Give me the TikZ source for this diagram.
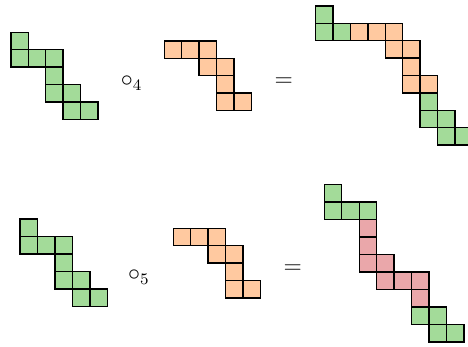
\documentclass[tikz,border=0pt]{standalone}
\definecolor{cgreen}{HTML}{A3DB99}
\definecolor{corange}{HTML}{FFC9A0}
\definecolor{cred}{HTML}{EAA7AA}
\tikzset{
  cellg/.style={draw=black, fill=cgreen, line width=0.7pt},
  cello/.style={draw=black, fill=corange, line width=0.7pt},
  cellr/.style={draw=black, fill=cred, line width=0.7pt},
  optext/.style={inner sep=0pt, font=\fontsize{12}{14}\selectfont},
}
\newcommand\polyo[4]{%
  \begin{scope}[shift={#1}, x=#2, y=-#2]
    \foreach \c/\r in {#4} \draw[#3] (\c,\r) rectangle ++(1,1);
  \end{scope}}
\begin{document}
\begin{tikzpicture}[x=0.5pt, y=-0.5pt]
\useasboundingbox (0,0) rectangle (468,347);
% top row
\polyo{(11,32.3)}{8.7pt}{cellg}{0/0,0/1,1/1,2/1,2/2,2/3,3/3,3/4,4/4}
\node[optext, anchor=base west] (op4) at (120.4,86.5) {$\circ_4$};
\polyo{(164.3,41)}{8.7pt}{cello}{0/0,1/0,2/0,2/1,3/1,3/2,3/3,4/3}
\node[optext, anchor=base] (eq1) at (283.8,86.7) {$=$};
\polyo{(315.7,6)}{8.7pt}{cellg}{0/0,0/1,1/1,6/5,6/6,7/6,7/7,8/7}
\polyo{(315.7,6)}{8.7pt}{cello}{2/1,3/1,4/1,4/2,5/2,5/3,5/4,6/4}
% bottom row
\polyo{(20,219)}{8.75pt}{cellg}{0/0,0/1,1/1,2/1,2/2,2/3,3/3,3/4,4/4}
\node[optext, anchor=base west] (op5) at (127.7,280.7) {$\circ_5$};
\polyo{(173.3,228.3)}{8.7pt}{cello}{0/0,1/0,2/0,2/1,3/1,3/2,3/3,4/3}
\node[optext, anchor=base] (eq2) at (292.7,273.2) {$=$};
\polyo{(324.3,184.7)}{8.73pt}{cellg}{0/0,0/1,1/1,2/1,5/7,6/7,6/8,7/8}
\polyo{(324.3,184.7)}{8.73pt}{cellr}{2/2,2/3,2/4,3/4,3/5,4/5,5/5,5/6}
\end{tikzpicture}
\end{document}
